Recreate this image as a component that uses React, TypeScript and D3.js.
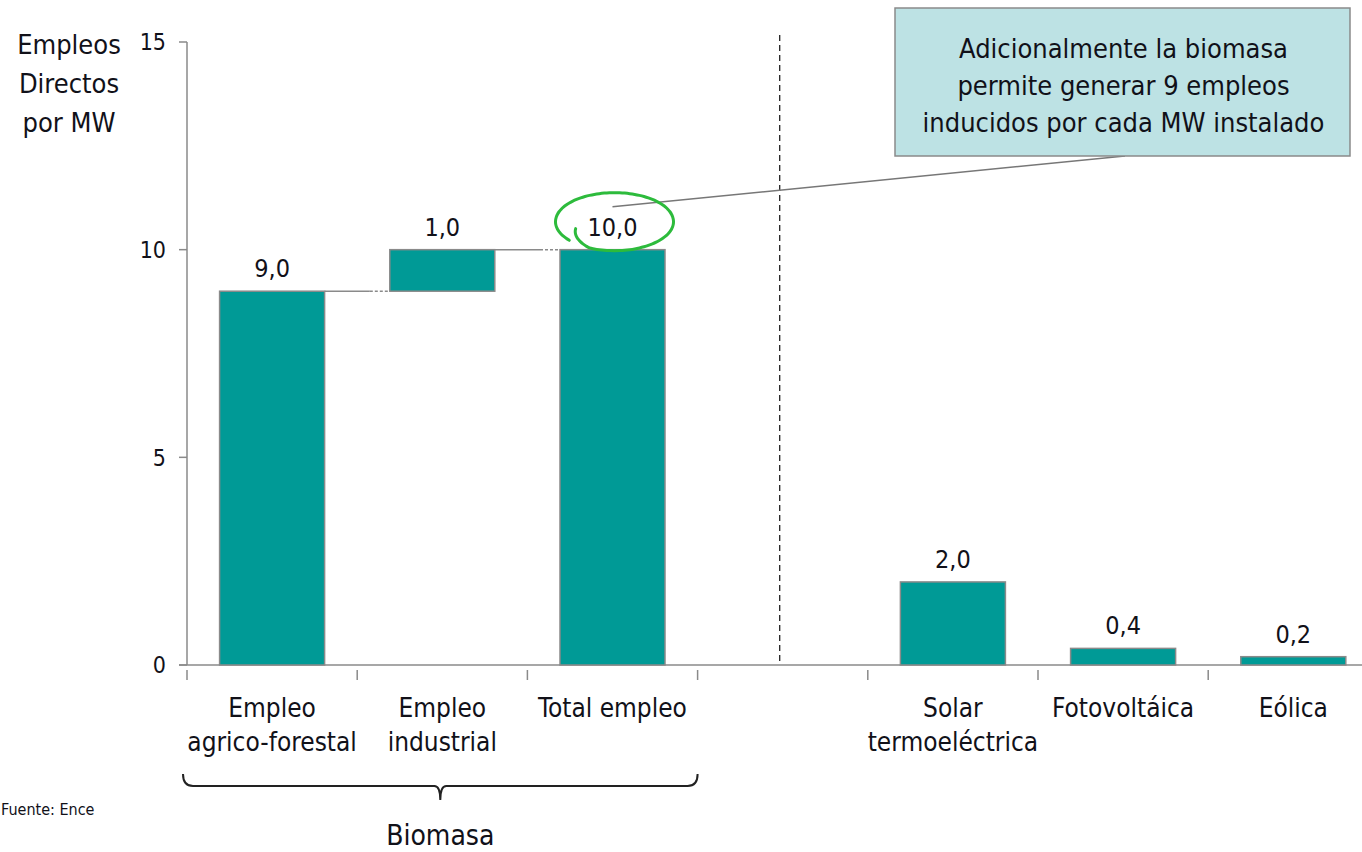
import * as d3 from 'd3';

// categories (multi-line labels), one empty slot separates biomass from the rest
const categories = ['agrico', 'industrial', 'total', 'gap', 'solar', 'foto', 'eolica'];
const categoryLabels = [
  ['Empleo', 'agrico-forestal'],
  ['Empleo', 'industrial'],
  ['Total empleo'],
  [],
  ['Solar', 'termoeléctrica'],
  ['Fotovoltáica'],
  ['Eólica'],
];
// waterfall: bar goes from base to base + value
const barBase = [0, 9, 0, null, 0, 0, 0];
const barValue = [9, 1, 10, null, 2, 0.4, 0.2];
const yTicks = [0, 5, 10, 15];
const yTitle = ['Empleos', 'Directos', 'por MW'];
const noteLines = [
  'Adicionalmente la biomasa',
  'permite generar 9 empleos',
  'inducidos por cada MW instalado',
];
const groupLabel = 'Biomasa';
const sourceText = 'Fuente: Ence';

const FONT = '"DejaVu Sans Condensed", "DejaVu Sans", sans-serif';
const TEXT = '#111119';
const BAR = '#009a96';
const GRID = '#8a8a8a';

const fmt = (v: number) => d3.format('.1f')(v).replace('.', ',');

export default function App() {
  const W = 1362;
  const H = 852;
  const axisX = 187;
  const axisY = 665;

  const y = d3.scaleLinear().domain([0, 15]).range([axisY, 42]);
  const x = d3
    .scaleBand()
    .domain(categories)
    .range([axisX, axisX + 170.2 * categories.length])
    .paddingInner(0.383)
    .paddingOuter(0.1915);
  const step = x.step();
  const bw = x.bandwidth();
  const bandStart = (c: string) => x(c)! - x.paddingOuter() * step;
  const center = (c: string) => x(c)! + bw / 2;

  // hand-drawn ellipse around the total label, ending in a small inward hook
  const ex = center('total') + 2;
  const ey = y(10) - 28;
  const loop: [number, number][] = d3.range(140, 521, 5).map((deg) => {
    const t = (deg * Math.PI) / 180;
    const k = deg > 475 ? 1 - ((deg - 475) / 45) * 0.3 : 1;
    return [ex + 59 * k * Math.cos(t), ey + 29 * k * Math.sin(t)];
  });
  const loopPath = d3.line().curve(d3.curveCatmullRom)(loop)!;

  const box = { x: 895, y: 8, w: 455, h: 148 };

  const braceL = bandStart('agrico') - 4;
  const braceR = bandStart('gap');
  const braceM = (braceL + braceR) / 2;

  return (
    <svg
      width={W}
      height={H}
      style={{ position: 'absolute', left: 0, top: 0, background: '#fff' }}
      fontFamily={FONT}
    >
      {/* Y axis */}
      <line x1={axisX} x2={axisX} y1={y(15)} y2={axisY} stroke={GRID} strokeWidth={1.5} />
      {yTicks.map((t) => (
        <g key={t}>
          <line x1={axisX - 8} x2={axisX} y1={y(t)} y2={y(t)} stroke={GRID} strokeWidth={1.5} />
          <text x={axisX - 21} y={y(t)} dy="0.36em" textAnchor="end" fontSize={23} fill={TEXT}>
            {t}
          </text>
        </g>
      ))}
      {yTitle.map((s, i) => (
        <text key={s} x={69} y={54 + i * 39} textAnchor="middle" fontSize={27} fill={TEXT}>
          {s}
        </text>
      ))}

      {/* X axis */}
      <line x1={axisX - 8} x2={W} y1={axisY} y2={axisY} stroke={GRID} strokeWidth={1.5} />
      {categories.map((c) => (
        <line
          key={c}
          x1={bandStart(c)}
          x2={bandStart(c)}
          y1={axisY + 5}
          y2={axisY + 15}
          stroke={GRID}
          strokeWidth={1.5}
        />
      ))}
      {categories.map((c, i) =>
        categoryLabels[i].map((s, j) => (
          <text key={c + j} x={center(c)} y={717 + j * 34} textAnchor="middle" fontSize={26} fill={TEXT}>
            {s}
          </text>
        ))
      )}

      {/* separator */}
      <line
        x1={center('gap') - 3}
        x2={center('gap') - 3}
        y1={35}
        y2={axisY}
        stroke="#222"
        strokeWidth={1.3}
        strokeDasharray="6,4"
      />

      {/* waterfall connectors */}
      {[0, 1].map((i) => {
        const top = y(barBase[i]! + barValue[i]!);
        const x1 = x(categories[i])! + bw;
        const x2 = x(categories[i + 1])!;
        return (
          <g key={i}>
            <line x1={x1} x2={x2 - 20} y1={top} y2={top} stroke={GRID} strokeWidth={1.5} />
            <line x1={x2 - 20} x2={x2} y1={top} y2={top} stroke={GRID} strokeWidth={1.5} strokeDasharray="3,2" />
          </g>
        );
      })}

      {/* bars */}
      {categories.map((c, i) => {
        if (barValue[i] == null) return null;
        const b = barBase[i]!;
        const v = barValue[i]!;
        return (
          <g key={c}>
            <rect
              x={x(c)}
              y={y(b + v)}
              width={bw}
              height={y(b) - y(b + v)}
              fill={BAR}
              stroke={GRID}
              strokeWidth={1.5}
            />
            <text x={center(c)} y={y(b + v) - 14} textAnchor="middle" fontSize={25} fill={TEXT}>
              {fmt(v)}
            </text>
          </g>
        );
      })}

      {/* callout */}
      <line
        x1={center('total')}
        x2={box.x + 230}
        y1={y(10) - 43}
        y2={box.y + box.h}
        stroke="#777"
        strokeWidth={1.5}
      />
      <path d={loopPath} fill="none" stroke="#2dbb3c" strokeWidth={3} strokeLinecap="round" />
      <rect x={box.x} y={box.y} width={box.w} height={box.h} fill="#bde2e4" stroke="#8a8a8a" strokeWidth={1.5} />
      {noteLines.map((s, i) => (
        <text
          key={s}
          x={box.x + box.w / 2 + 1}
          y={58 + i * 37}
          textAnchor="middle"
          fontSize={27}
          fill={TEXT}
        >
          {s}
        </text>
      ))}

      {/* brace */}
      <path
        d={`M${braceL},${774} Q${braceL},${786} ${braceL + 10},${786} L${braceM - 6},${786} Q${braceM},${786} ${braceM},${800} Q${braceM},${786} ${braceM + 6},${786} L${braceR - 10},${786} Q${braceR},${786} ${braceR},${774}`}
        fill="none"
        stroke="#222"
        strokeWidth={2}
      />
      <text x={braceM} y={845} textAnchor="middle" fontSize={28} fill={TEXT}>
        {groupLabel}
      </text>
      <text x={1} y={815} textAnchor="start" fontSize={16} fill={TEXT}>
        {sourceText}
      </text>
    </svg>
  );
}
